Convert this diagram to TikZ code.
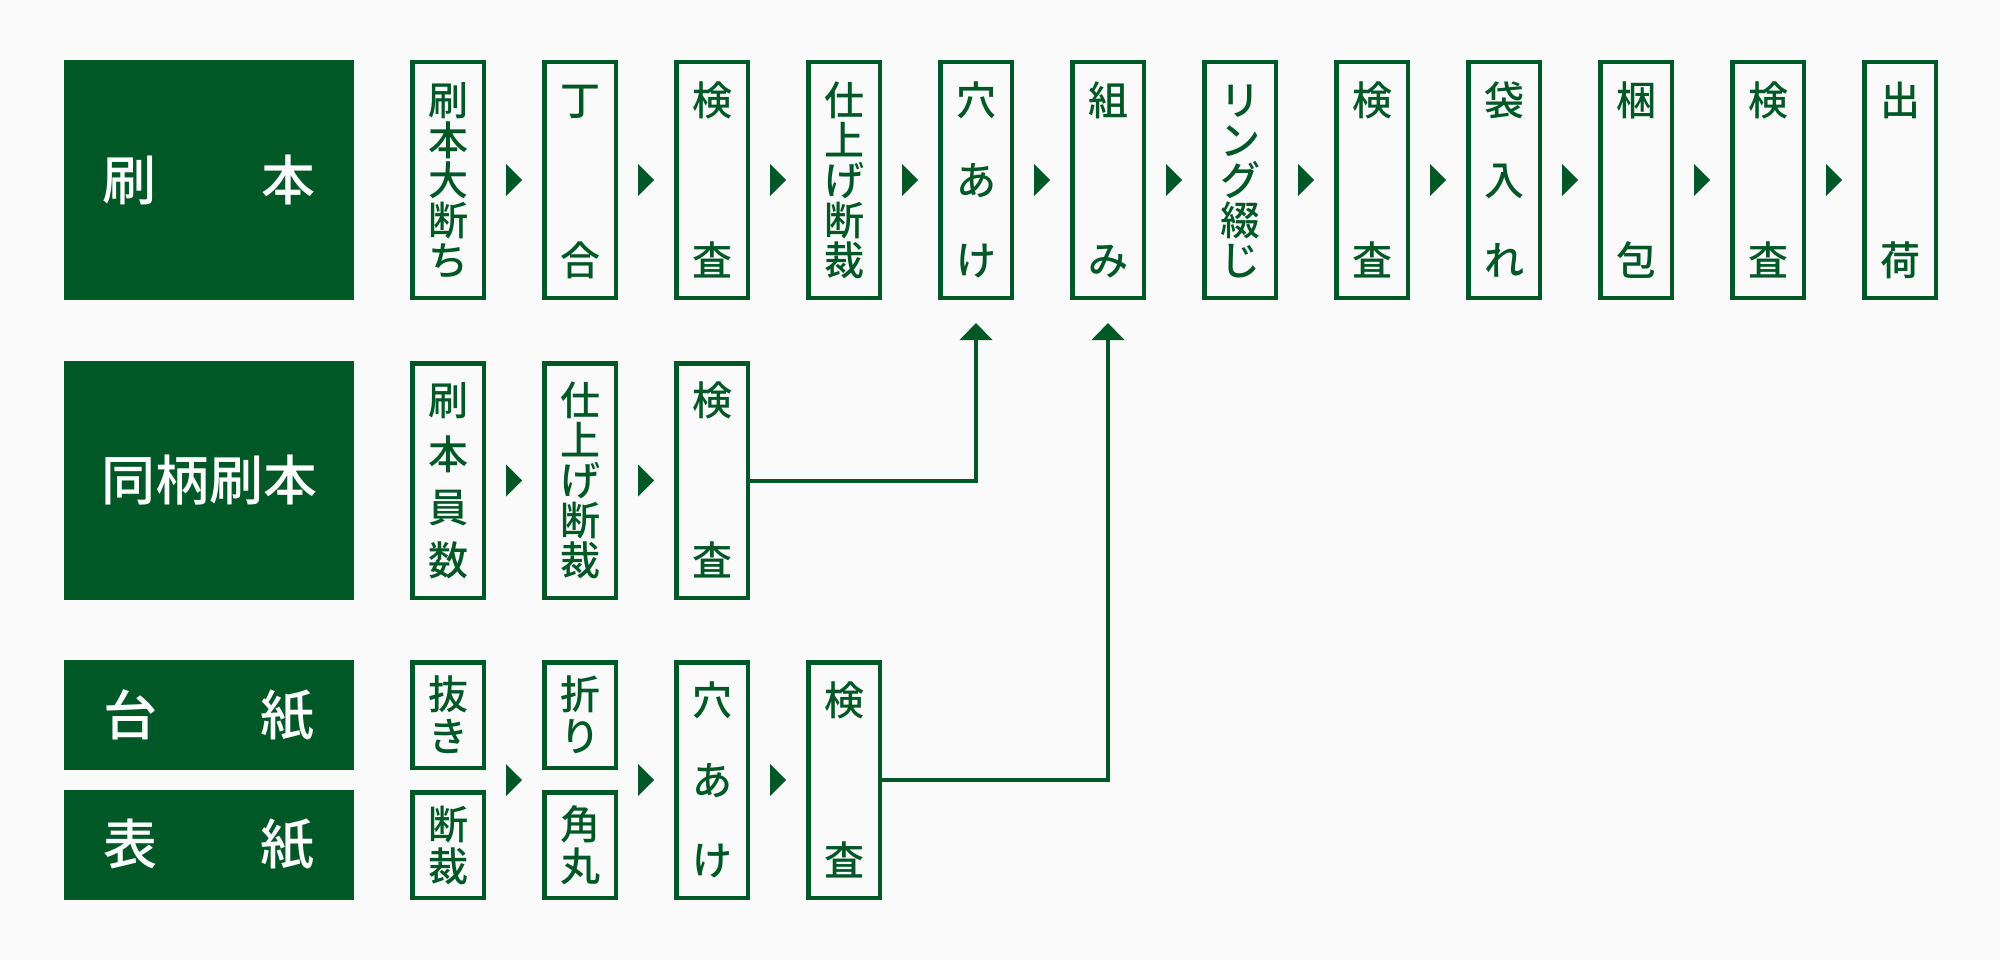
\documentclass[tikz,border=0pt]{standalone}
\usepackage{fontspec}
\newfontfamily\jp{Noto Sans CJK JP Medium}
\usetikzlibrary{arrows.meta,calc}
\definecolor{G}{RGB}{0,88,38}
\definecolor{BG}{RGB}{250,250,250}
\newcommand\sC[1]{\vrule height 0.88em depth 0.12em width 0pt\relax #1}
\newcommand\VB[2]{\sC{#1}\\\sC{#2}}
\newcommand\VC[3]{\sC{#1}\\\sC{#2}\\\sC{#3}}
\newcommand\VD[4]{\sC{#1}\\\sC{#2}\\\sC{#3}\\\sC{#4}}
\newcommand\VE[5]{\sC{#1}\\\sC{#2}\\\sC{#3}\\\sC{#4}\\\sC{#5}}
\newcommand\tri[1]{\fill[G] #1 ++(-8,-16) -- ++(16,16) -- ++(-16,16) -- cycle;}
\tikzset{
  catbox/.style={fill=G, text=white, inner sep=0pt, outer sep=0pt, minimum width=290pt,
    font=\jp\fontsize{54}{54}\selectfont},
  stepbox/.style={draw=G, line width=4.5pt, fill=BG, text=G, inner sep=0pt,
    minimum width=71.5pt, align=center},
  vp/.style={font=\jp\fontsize{40}{#1}\selectfont},
  tall/.style={minimum height=235.5pt},
  mid/.style={minimum height=234.5pt},
  short/.style={minimum height=105.5pt},
  conn/.style={draw=G, line width=4pt, -{Triangle[width=32pt,length=17pt]}},
}
\begin{document}
\begin{tikzpicture}[x=1pt,y=-1pt]
\useasboundingbox (0,0) rectangle (2000,960);
\fill[BG] (0,0) rectangle (2000,960);

% category boxes
\node[catbox, minimum height=240pt] (catA) at (209,180) {刷\hspace{1.95em}本};
\node[catbox, minimum height=239pt] (catB) at (209,480.5) {同柄刷本};
\node[catbox, minimum height=110pt] (catC) at (209,715) {台\hspace{1.9em}紙};
\node[catbox, minimum height=110pt] (catD) at (209,845) {表\hspace{1.9em}紙};

% row 1
\node[stepbox, tall, vp=40] (r1c1) at (448,180) {\VE{刷}{本}{大}{断}{ち}};
\node[stepbox, tall, vp=160] (r1c2) at (580,180) {\VB{丁}{合}};
\node[stepbox, tall, vp=160] (r1c3) at (712,180) {\VB{検}{査}};
\node[stepbox, tall, vp=40] (r1c4) at (844,180) {\VE{仕}{上}{げ}{断}{裁}};
\node[stepbox, tall, vp=80] (r1c5) at (976,180) {\VC{穴}{あ}{け}};
\node[stepbox, tall, vp=160] (r1c6) at (1108,180) {\VB{組}{み}};
\node[stepbox, tall, vp=40] (r1c7) at (1240,180) {\VE{リ}{ン}{グ}{綴}{じ}};
\node[stepbox, tall, vp=160] (r1c8) at (1372,180) {\VB{検}{査}};
\node[stepbox, tall, vp=80] (r1c9) at (1504,180) {\VC{袋}{入}{れ}};
\node[stepbox, tall, vp=160] (r1c10) at (1636,180) {\VB{梱}{包}};
\node[stepbox, tall, vp=160] (r1c11) at (1768,180) {\VB{検}{査}};
\node[stepbox, tall, vp=160] (r1c12) at (1900,180) {\VB{出}{荷}};

% row 2
\node[stepbox, mid, vp=53.3] (r2c1) at (448,480.5) {\VD{刷}{本}{員}{数}};
\node[stepbox, mid, vp=40] (r2c2) at (580,480.5) {\VE{仕}{上}{げ}{断}{裁}};
\node[stepbox, mid, vp=160] (r2c3) at (712,480.5) {\VB{検}{査}};

% row 3
\node[stepbox, short, vp=42] (r3c1a) at (448,715) {\VB{抜}{き}};
\node[stepbox, short, vp=42] (r3c1b) at (448,845) {\VB{断}{裁}};
\node[stepbox, short, vp=42] (r3c2a) at (580,715) {\VB{折}{り}};
\node[stepbox, short, vp=42] (r3c2b) at (580,845) {\VB{角}{丸}};
\node[stepbox, tall, vp=80] (r3c3) at (712,780) {\VC{穴}{あ}{け}};
\node[stepbox, tall, vp=160] (r3c4) at (844,780) {\VB{検}{査}};

% flow triangles row 1
\foreach \a/\b in {1/2,2/3,3/4,4/5,5/6,6/7,7/8,8/9,9/10,10/11,11/12}{
  \tri{($(r1c\a.east)!0.5!(r1c\b.west)$)}
}
% row 2
\tri{($(r2c1.east)!0.5!(r2c2.west)$)}
\tri{($(r2c2.east)!0.5!(r2c3.west)$)}
% row 3
\tri{($(r3c1a.south east)!0.5!(r3c2b.north west)$)}
\tri{($(r3c2b.east |- r3c3.east)!0.5!(r3c3.west)$)}
\tri{($(r3c3.east)!0.5!(r3c4.west)$)}

% connectors
\draw[conn] (r2c3.east) -- (r2c3.east -| r1c5.south) -- ($(r1c5.south)+(0,23)$);
\draw[conn] (r3c4.east) -- (r3c4.east -| r1c6.south) -- ($(r1c6.south)+(0,23)$);
\end{tikzpicture}
\end{document}
